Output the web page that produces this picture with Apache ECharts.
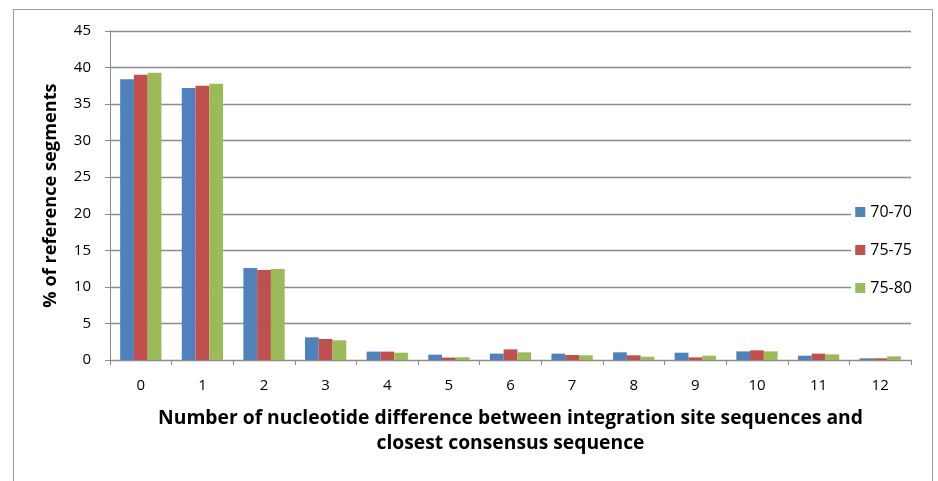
<!DOCTYPE html>
<html>
<head>
<meta charset="utf-8">
<script src="https://cdn.jsdelivr.net/npm/echarts@6/dist/echarts.min.js"></script>
<style>
  html, body { margin: 0; padding: 0; background: #fff; }
  #chart { width: 938px; height: 481px; }
</style>
</head>
<body>
<div id="chart"></div>
<script>
// Number of nucleotide differences (x) and share of reference segments (%)
const categories = ['0', '1', '2', '3', '4', '5', '6', '7', '8', '9', '10', '11', '12'];
const seriesNames = ['70-70', '75-75', '75-80'];
const values7070 = [38.4, 37.2, 12.6, 3.1, 1.15, 0.73, 0.87, 0.87, 1.05, 1.0, 1.18, 0.59, 0.23];
const values7575 = [39.0, 37.5, 12.3, 2.87, 1.15, 0.33, 1.45, 0.68, 0.64, 0.36, 1.32, 0.87, 0.23];
const values7580 = [39.3, 37.8, 12.45, 2.7, 1.0, 0.37, 1.05, 0.64, 0.45, 0.59, 1.18, 0.77, 0.5];
const yTicks = { min: 0, max: 45, interval: 5 };

const colors = ['#4F81BD', '#C0504D', '#9BBB59'];
const FONT = '"Open Sans", sans-serif';

const chart = echarts.init(document.getElementById('chart'), null, { renderer: 'canvas' });

const seriesData = [values7070, values7575, values7580];

chart.setOption({
  backgroundColor: '#fff',
  animation: false,
  textStyle: { fontFamily: FONT },
  grid: { left: 110, right: 27, top: 31, bottom: 121, containLabel: false },
  legend: {
    orient: 'vertical',
    right: 22,
    top: 201,
    itemWidth: 10,
    itemHeight: 10,
    itemGap: 22,
    icon: 'rect',
    backgroundColor: '#fff',
    padding: [3, 4, 0, 4],
    textStyle: { fontFamily: FONT, fontSize: 16, lineHeight: 14, color: '#000' },
    data: seriesNames
  },
  graphic: [{
    type: 'rect',
    shape: { x: 13.5, y: 9.5, width: 919, height: 500 },
    style: { fill: null, stroke: '#999', lineWidth: 1 },
    silent: true,
    z: 100
  }],
  xAxis: {
    type: 'category',
    data: categories,
    name: 'Number of nucleotide difference between integration site sequences and\nclosest consensus sequence',
    nameLocation: 'middle',
    nameGap: 46,
    nameTextStyle: { fontFamily: FONT, fontSize: 19.3, fontWeight: 'bold', color: '#000', lineHeight: 25 },
    axisLine: { lineStyle: { color: '#8c8c8c', width: 1 } },
    axisTick: { show: true, alignWithLabel: false, length: 5, lineStyle: { color: '#8c8c8c' } },
    axisLabel: { fontFamily: FONT, fontSize: 15, color: '#000', margin: 18 },
    splitLine: { show: false }
  },
  yAxis: {
    type: 'value',
    min: yTicks.min,
    max: yTicks.max,
    interval: yTicks.interval,
    name: '% of reference segments',
    nameLocation: 'middle',
    nameGap: 50,
    nameTextStyle: { fontFamily: FONT, fontSize: 18.2, fontWeight: 'bold', color: '#000' },
    axisLine: { show: true, lineStyle: { color: '#8c8c8c', width: 1 } },
    axisTick: { show: true, inside: false, length: 5, lineStyle: { color: '#8c8c8c' } },
    axisLabel: { fontFamily: FONT, fontSize: 15, color: '#000', margin: 19 },
    splitLine: { show: true, lineStyle: { color: '#8c8c8c', width: 1.3 } }
  },
  series: seriesNames.map((name, i) => ({
    name,
    type: 'bar',
    data: seriesData[i],
    barGap: '0%',
    barCategoryGap: '33%',
    itemStyle: { color: colors[i] }
  }))
});
</script>
</body>
</html>
